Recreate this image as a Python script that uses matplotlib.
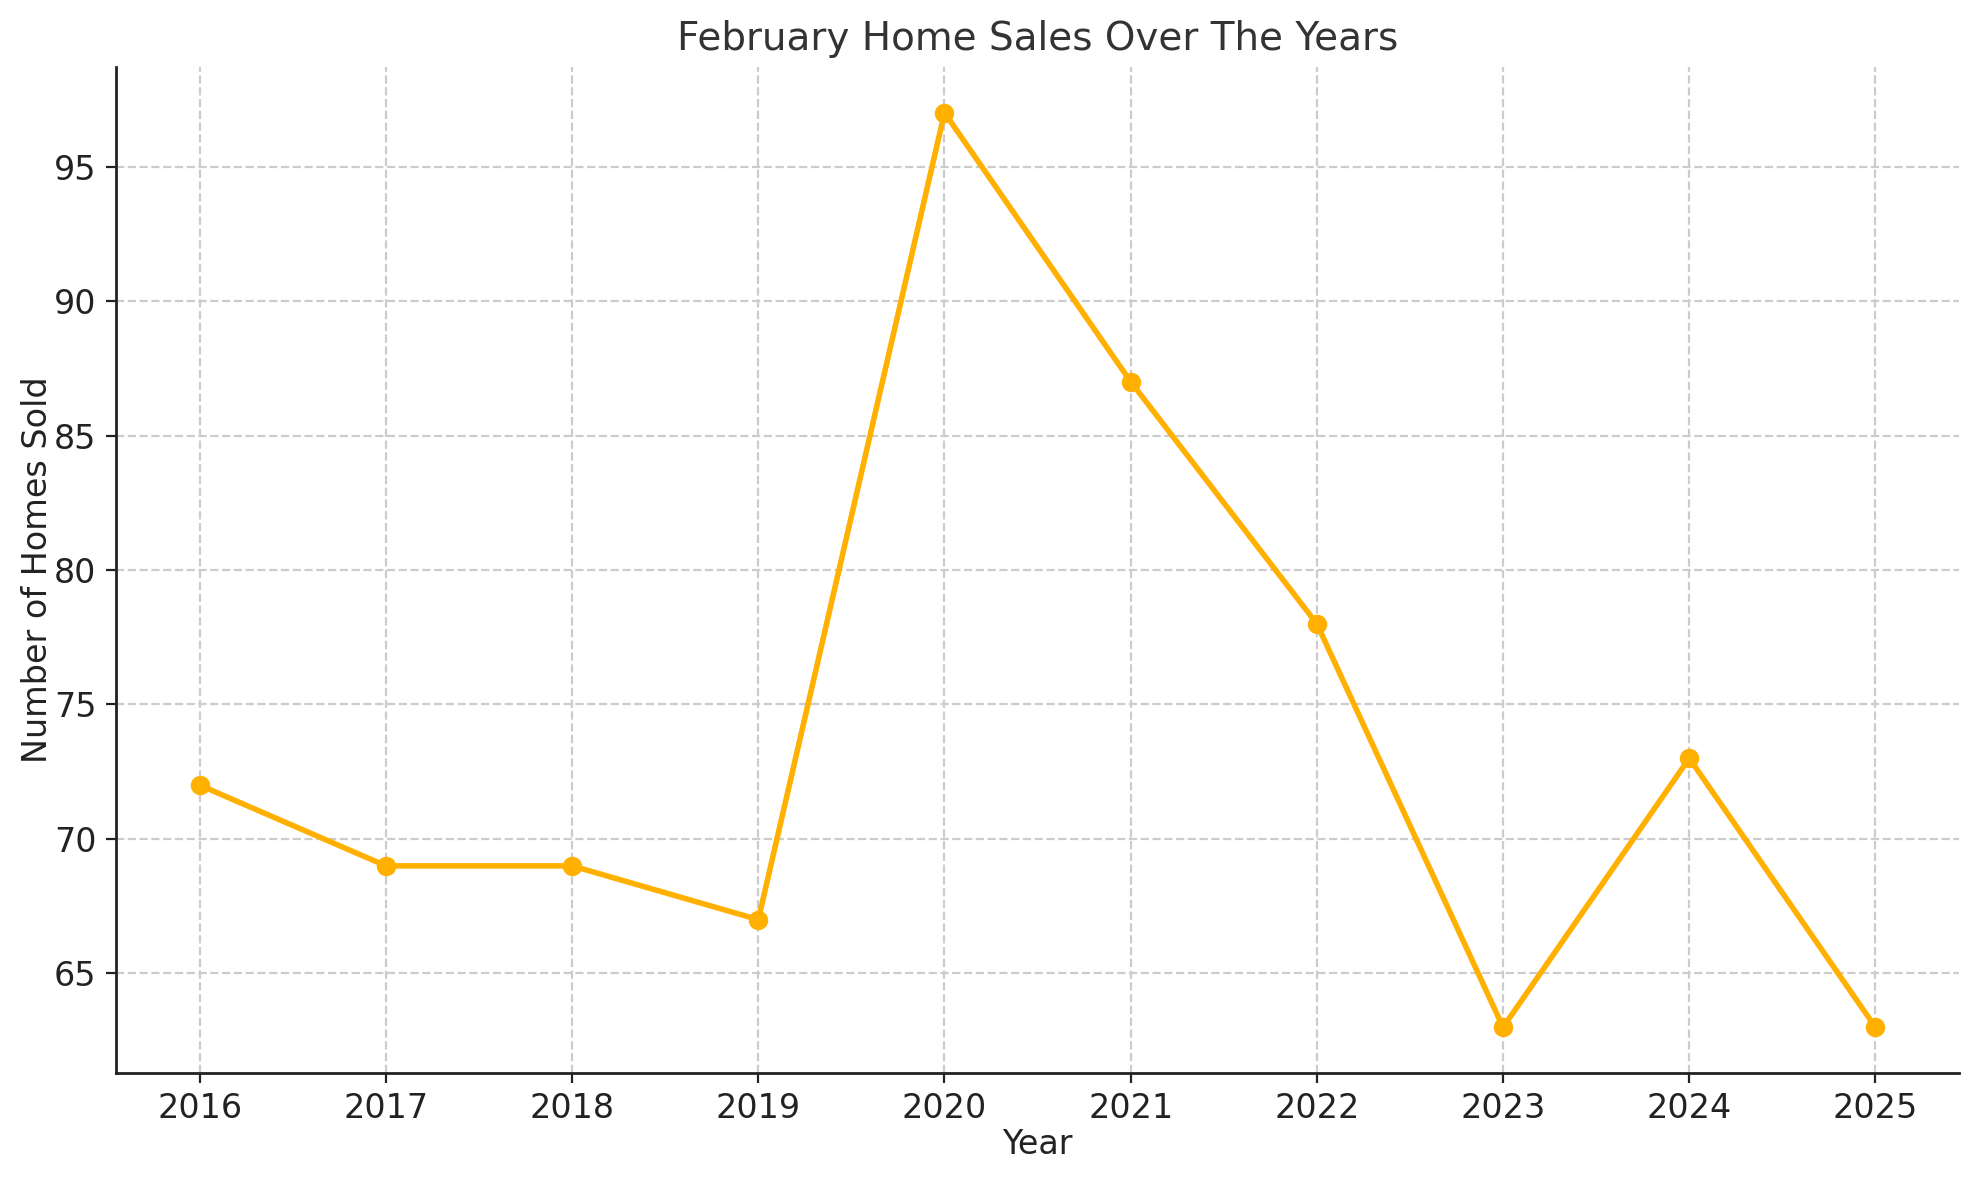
import matplotlib
matplotlib.use("Agg")
import matplotlib.pyplot as plt

years = [2016, 2017, 2018, 2019, 2020, 2021, 2022, 2023, 2024, 2025]
homes_sold = [72, 69, 69, 67, 97, 87, 78, 63, 73, 63]

plt.rcParams['font.family'] = ['DejaVu Sans']
fig = plt.figure(figsize=(9.895, 5.9), dpi=200)
ax = fig.add_axes([0.0586, 0.0907, 0.9314, 0.8525])

ax.plot(years, homes_sold, color='#FFB000', linewidth=2, marker='o', markersize=6)

ax.set_title('February Home Sales Over The Years', fontsize=14, color='#333333')
ax.set_xlabel('Year', fontsize=12, color='#222222', labelpad=1)
ax.set_ylabel('Number of Homes Sold', fontsize=12, color='#222222', labelpad=0)
ax.set_xticks(years)
ax.set_xticklabels([str(y) for y in years])
ax.tick_params(labelsize=12, colors='#222222')
ax.grid(True, linestyle='--', color='#cccccc', linewidth=0.8)
ax.set_axisbelow(True)
for s in ['top', 'right']:
    ax.spines[s].set_visible(False)
for s in ['left', 'bottom']:
    ax.spines[s].set_color('#222222')
    ax.spines[s].set_linewidth(1.0)

fig.savefig('out.png', dpi=200)
